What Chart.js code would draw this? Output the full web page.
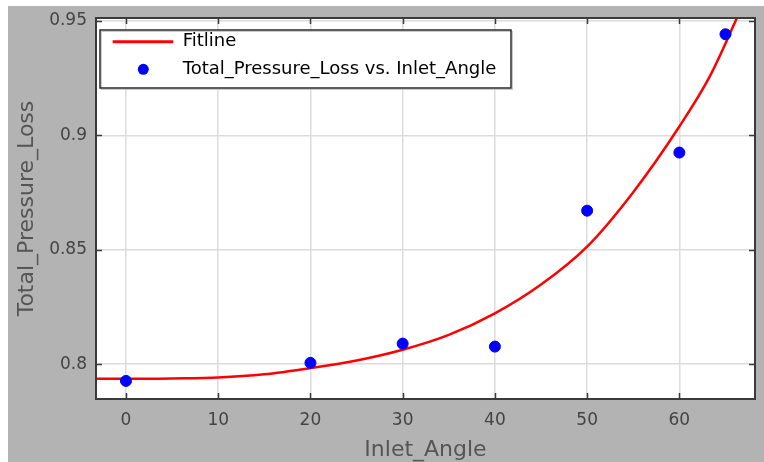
<!DOCTYPE html>
<html>
<head>
<meta charset="utf-8">
<script src="https://cdn.jsdelivr.net/npm/chart.js@4"></script>
<style>
  html, body { margin: 0; padding: 0; background: #ffffff; }
  #wrap { position: absolute; left: 8px; top: 6px; width: 756px; height: 456px; background: #b3b3b3; }
</style>
</head>
<body>
<div id="wrap"><canvas id="chart"></canvas></div>
<script>
// measured points
const inletAngle = [0, 20, 30, 40, 50, 60, 65];
const pressureLoss = [0.7927, 0.8006, 0.8090, 0.8077, 0.8671, 0.8925, 0.9442];

// fit curve
const fitX = [-3.3, 0, 5, 10, 15, 20, 25, 30, 35, 40, 45, 50, 55, 60, 63.3, 66.6];
const fitY = [0.7936, 0.7936, 0.7938, 0.7942, 0.7956, 0.7983, 0.8016, 0.8063, 0.8128, 0.8222, 0.8348, 0.8514, 0.8752, 0.9039, 0.9258, 0.9545];

const xTicks = [0, 10, 20, 30, 40, 50, 60];
const yTicks = [0.8, 0.85, 0.9, 0.95];

const fitPoints = fitX.map((x, i) => ({ x: x, y: fitY[i] }));
const lossPoints = inletAngle.map((x, i) => ({ x: x, y: pressureLoss[i] }));

// white plot area
const plotBg = {
  id: 'plotBg',
  beforeDraw(chart) {
    const { ctx, chartArea: a } = chart;
    ctx.save();
    ctx.fillStyle = '#ffffff';
    ctx.fillRect(a.left, a.top, a.right - a.left, a.bottom - a.top);
    ctx.restore();
  }
};

// frame with inward tick marks, and the boxed legend
const framePlugin = {
  id: 'frame',
  afterDatasetsDraw(chart) {
    const { ctx, chartArea: a, scales } = chart;
    ctx.save();
    ctx.strokeStyle = '#3a3a3a';
    ctx.lineWidth = 1.5;
    ctx.beginPath();
    xTicks.forEach(v => {
      const px = Math.round(scales.x.getPixelForValue(v)) + 0.5;
      ctx.moveTo(px, a.bottom); ctx.lineTo(px, a.bottom - 6);
      ctx.moveTo(px, a.top); ctx.lineTo(px, a.top + 6);
    });
    yTicks.forEach(v => {
      const py = Math.round(scales.y.getPixelForValue(v)) + 0.5;
      ctx.moveTo(a.left, py); ctx.lineTo(a.left + 6, py);
      ctx.moveTo(a.right, py); ctx.lineTo(a.right - 6, py);
    });
    ctx.stroke();
    ctx.lineWidth = 2;
    ctx.strokeRect(a.left, a.top, a.right - a.left, a.bottom - a.top);

    // legend
    const bx = a.left + 4, by = a.top + 12, bw = 411, bh = 58;
    ctx.fillStyle = '#ffffff';
    ctx.fillRect(bx, by, bw, bh);
    ctx.strokeStyle = '#c8c8c8';
    ctx.lineWidth = 1;
    ctx.strokeRect(bx + 1.5, by + 1.5, bw, bh);
    ctx.strokeStyle = '#2a2a2a';
    ctx.lineWidth = 1.5;
    ctx.strokeRect(bx, by, bw, bh);

    const ds = chart.data.datasets;
    const y1 = by + 11.7, y2 = by + 39.3;
    ctx.strokeStyle = ds[0].borderColor;
    ctx.lineWidth = 3;
    ctx.beginPath();
    ctx.moveTo(bx + 12.7, y1); ctx.lineTo(bx + 73.3, y1);
    ctx.stroke();
    ctx.fillStyle = ds[1].backgroundColor;
    ctx.beginPath();
    ctx.arc(bx + 43.3, y2, 5.5, 0, Math.PI * 2);
    ctx.fill();

    ctx.fillStyle = '#000000';
    ctx.font = '18px "DejaVu Sans"';
    ctx.textBaseline = 'middle';
    ctx.textAlign = 'left';
    ctx.fillText(ds[0].label, bx + 82.7, y1);
    ctx.fillText(ds[1].label, bx + 82.7, y2);
    ctx.restore();
  }
};

const ctx = document.getElementById('chart').getContext('2d');
new Chart(ctx, {
  type: 'scatter',
  data: {
    datasets: [
      {
        type: 'line',
        label: 'Fitline',
        data: fitPoints,
        borderColor: '#ff0000',
        borderWidth: 2.5,
        pointRadius: 0,
        fill: false,
        cubicInterpolationMode: 'monotone',
        order: 2,
      },
      {
        label: 'Total_Pressure_Loss vs. Inlet_Angle',
        data: lossPoints,
        backgroundColor: '#0000ff',
        borderColor: '#0000ff',
        pointRadius: 5.5,
        pointHoverRadius: 5.5,
        order: 1,
      },
    ],
  },
  options: {
    responsive: true,
    maintainAspectRatio: false,
    animation: false,
    events: [],
    layout: { padding: { left: 0, top: 12, right: 9, bottom: 0 } },
    plugins: {
      legend: { display: false },
      tooltip: { enabled: false },
    },
    scales: {
      x: {
        type: 'linear',
        min: -3.25,
        max: 68.2,
        afterBuildTicks: s => { s.ticks = xTicks.map(v => ({ value: v })); },
        afterFit: s => { s.height = 63; s.paddingLeft = 0; s.paddingRight = 0; },
        grid: { color: '#dcdcdc', lineWidth: 1.5, drawTicks: false },
        border: { display: false },
        ticks: {
          padding: 11,
          color: '#444444',
          font: { family: 'DejaVu Sans', size: 17 },
        },
        title: {
          display: true,
          text: 'Inlet_Angle',
          color: '#555555',
          font: { family: 'DejaVu Sans', size: 22, lineHeight: 1 },
          padding: { top: 0, bottom: 1 },
        },
      },
      y: {
        type: 'linear',
        min: 0.7848,
        max: 0.9513,
        afterBuildTicks: s => { s.ticks = yTicks.map(v => ({ value: v })); },
        afterFit: s => { s.width = 88; s.paddingTop = 0; s.paddingBottom = 0; },
        grid: { color: '#dcdcdc', lineWidth: 1.5, drawTicks: false },
        border: { display: false },
        ticks: {
          padding: 9,
          color: '#444444',
          font: { family: 'DejaVu Sans', size: 17 },
          callback: v => String(+v.toFixed(2)),
        },
        title: {
          display: true,
          text: 'Total_Pressure_Loss',
          color: '#555555',
          font: { family: 'DejaVu Sans', size: 22, lineHeight: 1.2 },
          padding: { top: 6, bottom: 0 },
        },
      },
    },
  },
  plugins: [plotBg, framePlugin],
});
</script>
</body>
</html>
